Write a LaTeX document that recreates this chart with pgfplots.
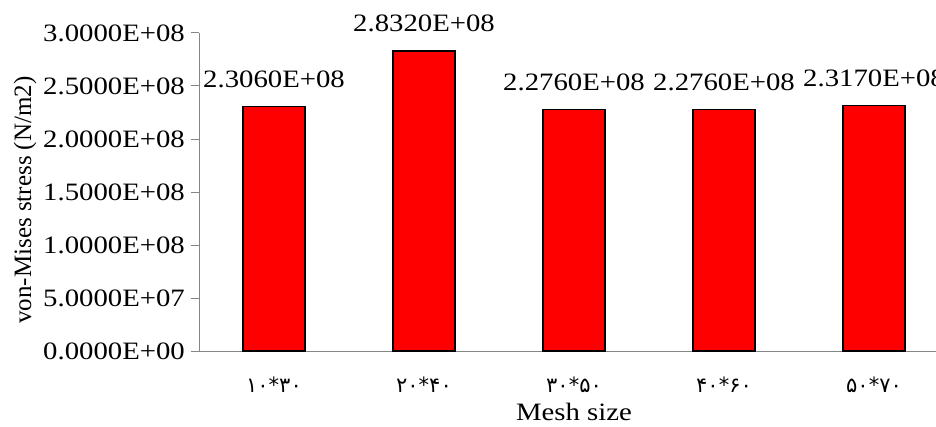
\documentclass[border=0pt]{standalone}
\usepackage{pgfplots}
\pgfplotsset{compat=1.18}
\usepackage{fontspec}
\setmainfont[FakeStretch=1.15]{Liberation Serif}
\newfontfamily\ylabfont{Liberation Serif}
\newfontfamily\fafont{DejaVu Sans}
\definecolor{axisgray}{RGB}{134,134,134}
\definecolor{barred}{RGB}{255,0,0}
\begin{document}
\begin{tikzpicture}[x=1pt,y=1pt]
  \begin{axis}[
    at={(199pt,75pt)}, anchor=south west,
    scale only axis,
    width=750pt, height=318pt,
    xmin=-0.5, xmax=4.5,
    ymin=0, ymax=3e8,
    scaled y ticks=false,
    axis x line=bottom, axis y line=left,
    axis line style={-, draw=axisgray, line width=1pt},
    clip=false,
    ybar=0pt, bar width=62pt,
    xtick=data,
    xticklabels={{\fafont ۱۰*۳۰},{\fafont ۲۰*۴۰},{\fafont ۳۰*۵۰},{\fafont ۴۰*۶۰},{\fafont ۵۰*۷۰}},
    x tick style={draw=none},
    xticklabel style={font=\fontsize{21}{24}\selectfont, yshift=-14pt},
    ytick={0,5e7,1e8,1.5e8,2e8,2.5e8,3e8},
    yticklabels={0.0000E+00,5.0000E+07,1.0000E+08,1.5000E+08,2.0000E+08,2.5000E+08,3.0000E+08},
    y tick style={draw=axisgray, line width=1pt},
    tick align=outside, major tick length=8pt,
    yticklabel style={font=\fontsize{25}{30}\selectfont, inner sep=0pt, xshift=-6pt},
    xlabel={Mesh size},
    xlabel style={font=\fontsize{25}{30}\selectfont, at={(axis description cs:0.5,0)}, anchor=base, inner sep=0pt, yshift=-69pt},
    ylabel={\ylabfont von-Mises stress (N/m2)},
    ylabel style={font=\fontsize{25}{30}\selectfont, at={([xshift=-174pt,yshift=-8pt]axis description cs:0,0.5)}, anchor=center},
    nodes near coords,
    point meta=explicit symbolic,
    every node near coord/.append style={font=\fontsize{25}{30}\selectfont, anchor=base, inner sep=0pt, yshift=19pt},
  ]
    \addplot[fill=barred, draw=black, line width=1.5pt] coordinates {
      (0,2.306e8) [2.3060E+08]
      (1,2.832e8) [2.8320E+08]
      (2,2.276e8) [2.2760E+08]
      (3,2.276e8) [2.2760E+08]
      (4,2.317e8) [2.3170E+08]
    };
  \end{axis}
  \pgfresetboundingbox
  \useasboundingbox (0,0) rectangle (936,426);
\end{tikzpicture}
\end{document}
